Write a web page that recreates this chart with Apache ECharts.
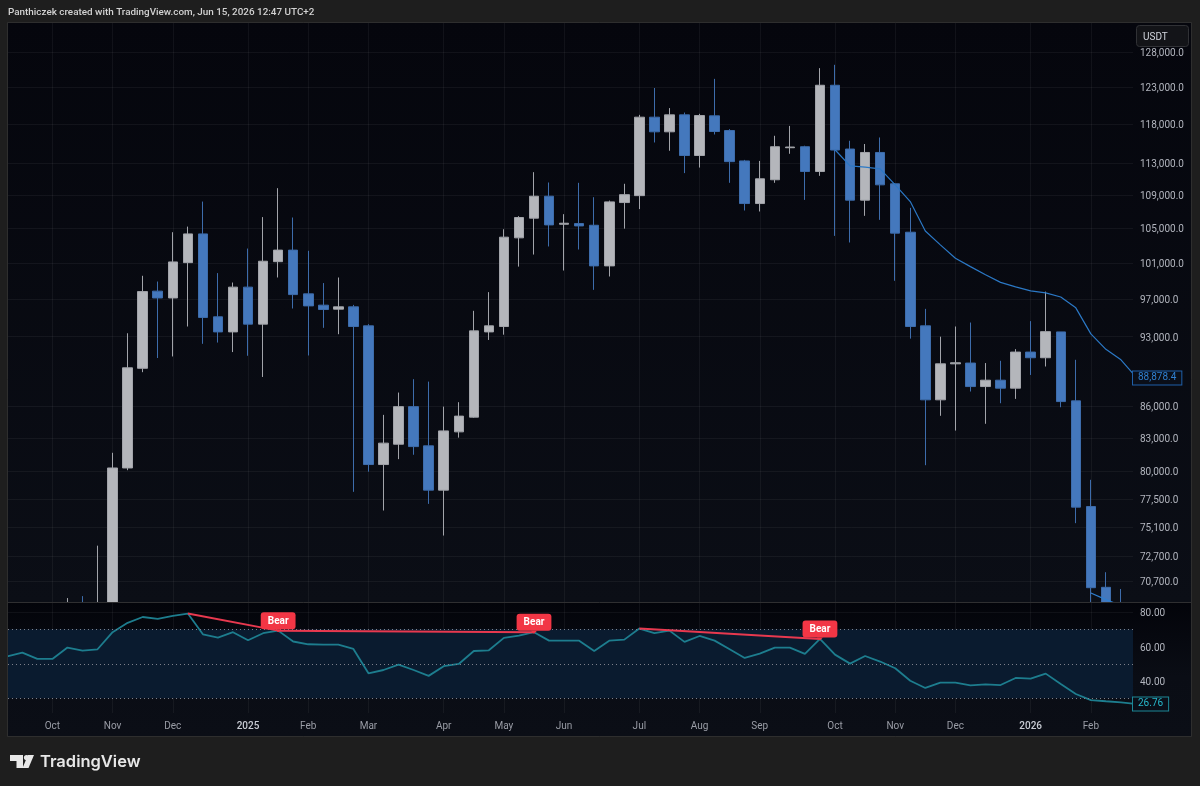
<!DOCTYPE html>
<html>
<head>
<meta charset="utf-8">
<style>
  html, body { margin: 0; padding: 0; background: #1e1e1e; }
  #chart { width: 1200px; height: 786px; }
</style>
<script src="https://cdn.jsdelivr.net/npm/echarts@6/dist/echarts.min.js"></script>
</head>
<body>
<div id="chart"></div>
<script>
// Weekly bars, counted from the week of 16 Sep 2024. Candles start at bar 4;
// earlier candles sit below the visible price range.
const firstCandle = 4;
const opens = [62800,69000,67000,68700,80250,89750,97870,97120,101050,104360,95090,93490,98310,94310,101160,102480,97570,96340,95910,96160,94130,80560,82420,85970,82270,78280,83570,84960,93490,94060,103900,106220,108870,105500,105580,105380,100680,108100,108940,118970,117030,119280,113960,119150,117200,113270,107980,110900,114960,115090,111930,123310,114790,108390,114350,110400,104560,94130,86630,90200,90280,87930,88560,87770,91400,90820,93490,86530,76850,70190,68400];
const closes = [69000,67000,68700,80250,89800,97820,97120,101130,104360,95020,93490,98310,94310,101210,102480,97490,96260,95870,96160,94060,80560,82520,85970,82200,78280,83660,85060,93600,94130,103980,106300,108870,105420,105620,105300,100680,108180,109060,118970,117030,119280,113960,119190,117070,113180,107980,111020,115090,115050,111930,123310,114660,108390,114350,110270,104450,94060,86630,90200,90310,87930,88560,87770,91400,90820,93520,86460,76800,70160,68400,67500];
const lows = [62000,66800,66800,68500,80050,89360,90790,90950,94060,92250,92380,91400,91020,88880,99380,95980,91050,93920,93250,78130,79920,76510,81050,81450,77080,74390,83030,84900,92650,93200,100600,101970,102900,100160,102550,98010,99490,104980,107310,115640,114570,111730,112430,116680,110520,107140,107020,110520,114180,108420,111390,104130,103360,106500,106020,99010,92790,80500,85090,83690,87440,84330,86300,86720,89080,89930,85910,75430,68000,67800,66800];
const highs = [69350,69500,73550,81630,93350,99570,98930,104560,105220,108220,99870,98820,102660,106350,109860,106300,102400,98760,99380,96370,94310,85180,87340,88660,88420,85970,86400,95730,97760,104910,106460,111850,110560,106700,110520,108750,108340,110400,119280,122930,120190,119590,119420,124200,117380,113400,113270,116510,117810,115220,125700,126170,115860,115440,116290,110490,107460,95940,92990,94060,94480,90280,90510,91700,94630,97820,93490,90610,79190,71390,70060];

// Moving averages on the price pane.
const maStart = 55;
const maValues = [114700,112640,112480,112260,110270,108220,104710,103090,101550,100600,99680,98840,98340,97900,97680,97230,96050,93280,91680,90610,88878.4];
const lowerMaStart = 72;
const lowerMaValues = [69740,69225,68770];

// RSI, one value per week, bar 0 onward.
const rsiValues = [54.3,56.5,52.8,52.8,59.4,57.6,58.4,68.3,73.7,77.1,76,77.7,79.1,67.1,65.2,68.3,63.6,67.7,69.2,62.9,61.3,61.1,61.1,58.6,44.5,46.4,49.5,46.4,43,48.6,49.9,57.4,57.8,65,66.3,68.3,63.4,63.4,63.4,57.4,63.4,64,70.4,67.7,69.2,62.7,66.1,63.4,58.4,53.4,55.9,59.4,59.4,55.7,64.4,55.3,50.1,54.5,51.3,47.4,40.2,36,39.1,39.1,37.5,38.1,37.7,41.8,41.4,44.3,38.3,32.5,29,28.3,27.7,26.76];

// Bearish divergence segments, as pairs of RSI bar numbers.
const bearSegments = [[12,18],[18,35],[42,54]];
const bearLabelBars = [18,35,54];

// Axis ticks.
const priceTicks = [128000,123000,118000,113000,109000,105000,101000,97000,93000,86000,83000,80000,77500,75100,72700,70700];
const rsiTicks = [40,60,80];
const rsiLevels = [70,50,30];
const monthTicks = [3,7,11,16,20,24,29,33,37,42,46,50,55,59,63,68,72];
const monthLabels = ['Oct','Nov','Dec','2025','Feb','Mar','Apr','May','Jun','Jul','Aug','Sep','Oct','Nov','Dec','2026','Feb'];

const FONT = 'Roboto, sans-serif';
const xMin = 0.05, xMax = 74.8;
const gridLine = { show: true, lineStyle: { color: 'rgba(255,255,255,0.05)', width: 1 } };
// Value labels on the right-hand scales sit a little below their grid line.
const scaleRich = { v: { color: '#b2b5be', fontSize: 10, fontFamily: FONT, padding: [3, 0, 0, 0] } };

const priceFmt = v => Number(v).toLocaleString('en-US', { minimumFractionDigits: 1, maximumFractionDigits: 1 });
const candles = opens.map((o, k) => [k + firstCandle, o, closes[k], lows[k], highs[k]]);
const ma = maValues.map((v, k) => [k + maStart, v]);
const lowerMa = lowerMaValues.map((v, k) => [k + lowerMaStart, v]);
const rsi = rsiValues.map((v, k) => [k, v]);
const lastMa = maValues[maValues.length - 1];
const lastRsi = rsiValues[rsiValues.length - 1];

const bearSeries = bearSegments.map(([a, b]) => ({
  type: 'line', xAxisIndex: 1, yAxisIndex: 1, silent: true, symbol: 'none', z: 5,
  data: [[a, rsiValues[a]], [b, rsiValues[b]]],
  lineStyle: { color: '#e8394f', width: 2 }
}));

const chart = echarts.init(document.getElementById('chart'), null, { renderer: 'canvas' });
chart.setOption({
  animation: false,
  backgroundColor: '#1e1e1e',
  textStyle: { fontFamily: FONT },
  grid: [
    { left: 8, top: 23, width: 1125, height: 579 },
    { left: 8, top: 603, width: 1125, height: 110 }
  ],
  xAxis: [
    // Price pane axes sit under the candles; the RSI pane panel then covers
    // whatever part of a candle falls below the price range.
    { type: 'value', gridIndex: 0, z: -4, min: xMin, max: xMax, splitLine: gridLine,
      axisLine: { show: false }, axisTick: { show: false, customValues: monthTicks },
      axisLabel: { show: false } },
    { type: 'value', gridIndex: 1, z: -1, min: xMin, max: xMax, splitLine: gridLine,
      axisLine: { show: false }, axisTick: { show: false, customValues: monthTicks },
      axisLabel: {
        customValues: monthTicks, margin: 8,
        formatter: v => {
          const t = monthLabels[monthTicks.indexOf(v)];
          return /^\d/.test(t) ? '{y|' + t + '}' : t;
        },
        color: '#9a9da6', fontSize: 10, fontFamily: FONT,
        rich: { y: { color: '#c8cbd3', fontSize: 10, fontWeight: 500, fontFamily: FONT } }
      } }
  ],
  yAxis: [
    { type: 'log', logBase: 10, gridIndex: 0, z: -4, position: 'right', min: 69043, max: 132234,
      splitLine: gridLine, axisLine: { show: false }, axisTick: { show: false, customValues: priceTicks },
      axisLabel: { customValues: priceTicks, formatter: v => '{v|' + priceFmt(v) + '}', rich: scaleRich, margin: 7 } },
    { type: 'value', gridIndex: 1, z: -1, position: 'right', min: 21.5, max: 85.2,
      splitLine: gridLine, axisLine: { show: false }, axisTick: { show: false, customValues: rsiTicks },
      axisLabel: { customValues: rsiTicks, formatter: v => '{v|' + Number(v).toFixed(2) + '}', rich: scaleRich, margin: 7 } }
  ],
  series: [
    {
      type: 'candlestick', xAxisIndex: 0, yAxisIndex: 0, barWidth: 10, z: -3,
      encode: { x: 0, y: [1, 2, 3, 4] },
      data: candles,
      itemStyle: { color: '#b4b6bb', color0: '#4478bd', borderColor: '#a2a4aa', borderColor0: '#3d6cab', borderWidth: 1 }
    },
    {
      type: 'line', xAxisIndex: 0, yAxisIndex: 0, symbol: 'none', z: 4, data: ma,
      lineStyle: { color: '#2b78c5', width: 1.2 },
      markPoint: {
        silent: true, symbol: 'circle', symbolSize: 0,
        itemStyle: { color: 'transparent' },
        data: [{ coord: [xMax, lastMa], value: lastMa }],
        label: {
          position: 'right', distance: 0, offset: [0, 1], formatter: () => priceFmt(lastMa),
          color: '#2f7fd0', fontSize: 10, fontFamily: FONT,
          backgroundColor: '#0a0e18', borderColor: '#1f5fa8', borderWidth: 1,
          padding: [2, 5, 1, 5]
        }
      }
    },
    { type: 'line', xAxisIndex: 0, yAxisIndex: 0, symbol: 'none', z: 4, data: lowerMa,
      lineStyle: { color: '#2f7fd0', width: 1.2 } },
    {
      type: 'line', xAxisIndex: 1, yAxisIndex: 1, symbol: 'none', z: 4, data: rsi,
      lineStyle: { color: '#1d7d8e', width: 1.8 },
      markArea: { silent: true, itemStyle: { color: '#0a1b2f' }, data: [[{ yAxis: 70 }, { yAxis: 30 }]], z: 1 },
      markLine: {
        silent: true, symbol: 'none', label: { show: false },
        lineStyle: { color: '#7d808b', type: [1, 3], width: 1 },
        data: rsiLevels.map(v => ({ yAxis: v }))
      },
      markPoint: {
        silent: true, symbol: 'circle', symbolSize: 0,
        itemStyle: { color: 'transparent' },
        data: [{ coord: [xMax, lastRsi], value: lastRsi }],
        label: {
          position: 'right', distance: 0, formatter: () => lastRsi.toFixed(2),
          color: '#27b8cc', fontSize: 10, fontFamily: FONT,
          backgroundColor: '#0a0e18', borderColor: '#1d8796', borderWidth: 1,
          padding: [2, 5, 1, 5]
        }
      }
    },
    ...bearSeries,
    {
      type: 'scatter', xAxisIndex: 1, yAxisIndex: 1, silent: true, z: 6,
      symbol: 'triangle', symbolRotate: 180, symbolSize: [6, 3],
      data: bearLabelBars.map(i => [i, rsiValues[i]]),
      itemStyle: { color: '#f23645', opacity: 1 },
      label: {
        show: true, position: 'top', distance: 0, formatter: 'Bear',
        color: '#ffffff', fontSize: 10, fontWeight: 'bold', fontFamily: FONT,
        backgroundColor: '#f23645', borderRadius: 3, padding: [4, 7, 3, 7]
      }
    }
  ],
  graphic: [
    // panel backgrounds
    { type: 'rect', z: -5, shape: { x: 8, y: 23, width: 1183, height: 580 },
      style: { fill: new echarts.graphic.LinearGradient(0, 0, 0, 1, [{ offset: 0, color: '#05060d' }, { offset: 1, color: '#0b0e16' }]) } },
    { type: 'rect', z: -2, shape: { x: 8, y: 603, width: 1183, height: 133 },
      style: { fill: new echarts.graphic.LinearGradient(0, 0, 0, 1, [{ offset: 0, color: '#03040a' }, { offset: 0.55, color: '#0a0d15' }, { offset: 1, color: '#0b0e16' }]) } },
    { type: 'rect', z: 10, shape: { x: 7.5, y: 22.5, width: 1184, height: 714 },
      style: { fill: 'none', stroke: '#2e2e2e', lineWidth: 1 } },
    { type: 'line', z: 10, shape: { x1: 8, y1: 602.5, x2: 1191, y2: 602.5 },
      style: { stroke: '#2f2f31', lineWidth: 1 } },
    // currency button
    { type: 'rect', z: 20, shape: { x: 1136.5, y: 25.5, width: 52, height: 21, r: 3 },
      style: { fill: '#131418', stroke: '#303135', lineWidth: 1 } },
    { type: 'text', z: 21, x: 1143, y: 37,
      style: { text: 'USDT', fill: '#d1d4dc', font: '10px ' + FONT, textVerticalAlign: 'middle' } },
    // header and watermark
    { type: 'text', z: 21, x: 8, y: 13,
      style: { text: 'Panthiczek created with TradingView.com, Jun 15, 2026 12:47 UTC+2', fill: '#d2d2d2', font: '500 9.9px ' + FONT, textVerticalAlign: 'middle' } },
    { type: 'polygon', z: 21, shape: { points: [[10,755],[23,755],[23,768],[16.5,768],[16.5,761],[10,761]] }, style: { fill: '#e8e8e8' } },
    { type: 'circle', z: 21, shape: { cx: 26.5, cy: 757.6, r: 2.6 }, style: { fill: '#e8e8e8' } },
    { type: 'polygon', z: 21, shape: { points: [[28,755],[34,755],[28.5,768],[22.5,768]] }, style: { fill: '#e8e8e8' } },
    { type: 'text', z: 21, x: 40, y: 762,
      style: { text: 'TradingView', fill: '#e8e8e8', font: '600 16.5px Inter, ' + FONT, textVerticalAlign: 'middle' } }
  ]
});
</script>
</body>
</html>
